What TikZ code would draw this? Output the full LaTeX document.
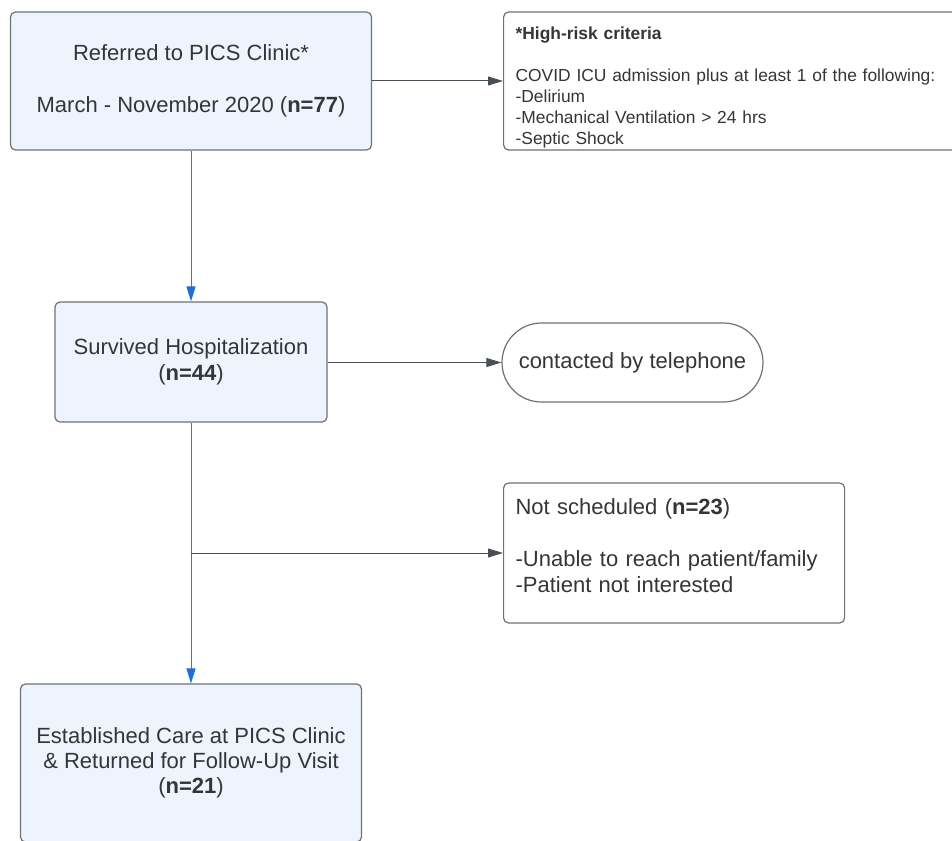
\documentclass[tikz,border=0pt]{standalone}
\usepackage{fontspec}
\setmainfont{Liberation Sans}
\usetikzlibrary{arrows.meta,shapes.misc}
\definecolor{boxfill}{HTML}{EDF4FD}
\definecolor{boxline}{HTML}{6E7277}
\definecolor{txtgray}{HTML}{333539}
\definecolor{flowline}{HTML}{4A4F57}
\definecolor{downline}{HTML}{55739A}
\definecolor{tipblue}{HTML}{1A6EE0}

\begin{document}
\begin{tikzpicture}
  [x=1pt,y=-1pt,
   every node/.style={text=txtgray,font=\fontsize{22}{26}\selectfont,inner sep=0pt},
   stagebox/.style={draw=boxline,fill=boxfill,line width=1.2pt,rounded corners=5pt,align=center},
   notebox/.style={draw=boxline,fill=white,line width=1.2pt,rounded corners=5pt,align=left,inner xsep=12pt,anchor=west},
   callbox/.style={draw=boxline,rounded rectangle,line width=1.2pt,minimum width=261pt,minimum height=79pt},
   side/.style={draw=flowline,line width=1pt,-{Triangle[length=15pt,width=9pt]}},
   down/.style={draw=downline,line width=1pt,-{Triangle[length=15pt,width=9pt,color=tipblue]}}]

  \useasboundingbox (0,0) rectangle (952,840);
  \clip (0,0) rectangle (952,840);

  % main column
  \node[stagebox,minimum width=361pt,minimum height=138pt] (ref) at (191,81)
    {Referred to PICS Clinic*\\[26pt]March - November 2020 (\textbf{n=77})};
  \node[stagebox,minimum width=272pt,minimum height=120pt] (surv) at (191,362)
    {Survived Hospitalization\\(\textbf{n=44})};
  \node[stagebox,minimum width=341pt,minimum height=158pt] (care) at (191,763)
    {Established Care at PICS Clinic\\[-1pt]\& Returned for Follow-Up Visit\\[-1pt](\textbf{n=21})};

  % side notes
  \node[notebox,text width=446pt,minimum height=138pt,font=\fontsize{17.4}{21}\selectfont] (crit) at (503,81)
    {\mbox{}\\[5pt]\textbf{*High-risk criteria}\\[21pt]COVID ICU admission plus at least 1 of the following:\\-Delirium\\-Mechanical Ventilation > 24 hrs\\-Septic Shock};
  \node[callbox] (call) at (632.5,362.5) {contacted by telephone};
  \node[notebox,text width=317pt,minimum height=140pt] (miss) at (503,553)
    {Not scheduled (\textbf{n=23})\\[26pt]-Unable to reach patient/family\\-Patient not interested\\[-11pt]\mbox{}};

  \coordinate (split) at (surv.south |- miss.west);

  \foreach \from/\to in {ref/surv,surv/care}
    \draw[down] (\from.south) -- (\to.north);
  \foreach \from/\to in {ref/crit,surv/call,split/miss}
    \draw[side] (\from.east |- \to.west) -- (\to.west);
\end{tikzpicture}
\end{document}
